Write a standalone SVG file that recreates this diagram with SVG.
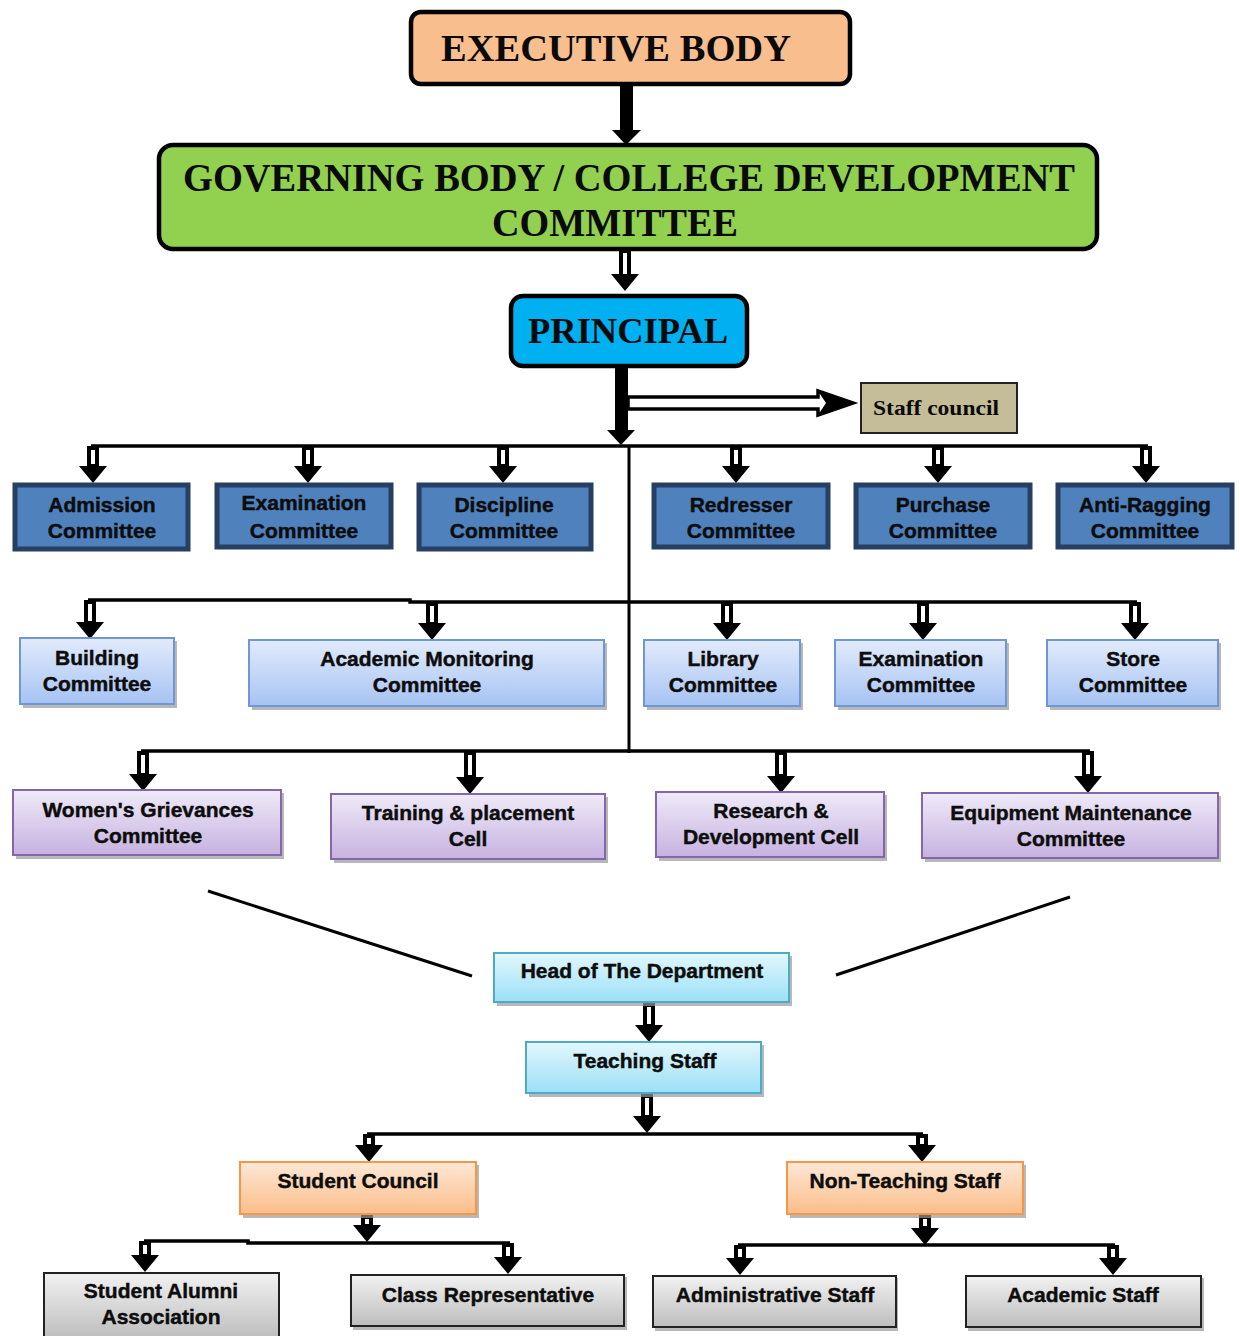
<svg xmlns="http://www.w3.org/2000/svg" xmlns:xlink="http://www.w3.org/1999/xlink" width="1240" height="1336" viewBox="0 0 1240 1336">
<style>
.serif{font-family:"Liberation Serif","Times New Roman",serif;font-weight:bold;fill:#0a0a0a;text-anchor:middle}
.t{font-family:"Liberation Sans",Arial,sans-serif;font-weight:bold;font-size:21px;fill:#0d0d0d;stroke:#0d0d0d;stroke-width:0.45;text-anchor:middle}
.dk{fill:#4F81BD;stroke:#263F63;stroke-width:5}
.lb{fill:url(#gLb);stroke:#6F97D5;stroke-width:2}
.lav{fill:url(#gLav);stroke:#8466AC;stroke-width:2}
.cy{fill:url(#gCy);stroke:#4BACC6;stroke-width:2}
.or{fill:url(#gOr);stroke:#F79646;stroke-width:2}
.gr{fill:url(#gGr);stroke:#222;stroke-width:2}
.shd{fill:#9a9a9a;opacity:0.7}
.bus{fill:none;stroke:#000;stroke-width:3.5}
.sh{fill:#fff;stroke:#000;stroke-width:4}
.hd{fill:#000}
</style>
<defs>
<linearGradient id="gLb" x1="0" y1="0" x2="0" y2="1"><stop offset="0" stop-color="#E2EBFB"/><stop offset="1" stop-color="#A6C3F3"/></linearGradient>
<linearGradient id="gLav" x1="0" y1="0" x2="0" y2="1"><stop offset="0" stop-color="#EFEAF8"/><stop offset="1" stop-color="#C6B2E0"/></linearGradient>
<linearGradient id="gCy" x1="0" y1="0" x2="0" y2="1"><stop offset="0" stop-color="#E3F7FD"/><stop offset="1" stop-color="#9BE0F7"/></linearGradient>
<linearGradient id="gOr" x1="0" y1="0" x2="0" y2="1"><stop offset="0" stop-color="#FDE8D6"/><stop offset="1" stop-color="#FBBD8A"/></linearGradient>
<linearGradient id="gGr" x1="0" y1="0" x2="0" y2="1"><stop offset="0" stop-color="#F2F2F2"/><stop offset="1" stop-color="#BDBDBD"/></linearGradient>
<path id="hd" class="hd" d="M-14 -17 H14 L0 0 Z"/>
</defs>

<g id="connectors">
  <rect x="620" y="84" width="13" height="48" fill="#000"/>
  <path d="M612 130 H641 L626 145 Z" fill="#000"/>
  <rect class="sh" x="621" y="251" width="8" height="26"/>
  <use xlink:href="#hd" x="625" y="291"/>
  <rect x="615" y="366" width="13" height="66" fill="#000"/>
  <path d="M607 430 H635 L621 445 Z" fill="#000"/>
  <path d="M628 397 H818 V391 L853 403 L818 415 V409 H628 Z" fill="#fff" stroke="#000" stroke-width="3.5" stroke-linejoin="miter"/>
  <path d="M818 391 L853 403 L818 415 L826 403 Z" fill="#000"/>
  <line x1="629" y1="446" x2="629" y2="753" stroke="#000" stroke-width="3"/>
  <polyline class="bus" points="91,446 1148,446"/>
  <polyline class="bus" points="88,600 410,600 410,602 1137,602"/>
  <polyline class="bus" points="141,751 1090,751"/>
  <polyline class="bus" points="367,1134 923,1134"/>
  <polyline class="bus" points="144,1241 248,1241 248,1243 510,1243"/>
  <polyline class="bus" points="738,1245 1115,1245"/>
  <line x1="208" y1="891" x2="472" y2="976" stroke="#000" stroke-width="3"/>
  <line x1="836" y1="975" x2="1070" y2="897" stroke="#000" stroke-width="3"/>
  <rect class="sh" x="89" y="448" width="8" height="18"/><use xlink:href="#hd" x="93" y="483"/>
  <rect class="sh" x="304" y="448" width="8" height="18"/><use xlink:href="#hd" x="308" y="483"/>
  <rect class="sh" x="499" y="448" width="8" height="18"/><use xlink:href="#hd" x="503" y="483"/>
  <rect class="sh" x="732" y="448" width="8" height="18"/><use xlink:href="#hd" x="736" y="483"/>
  <rect class="sh" x="934" y="448" width="8" height="18"/><use xlink:href="#hd" x="938" y="483"/>
  <rect class="sh" x="1142" y="448" width="8" height="18"/><use xlink:href="#hd" x="1146" y="483"/>
  <rect class="sh" x="86" y="602" width="8" height="21"/><use xlink:href="#hd" x="90" y="639"/>
  <rect class="sh" x="428" y="604" width="8" height="20"/><use xlink:href="#hd" x="432" y="640"/>
  <rect class="sh" x="723" y="604" width="8" height="20"/><use xlink:href="#hd" x="727" y="640"/>
  <rect class="sh" x="919" y="604" width="8" height="20"/><use xlink:href="#hd" x="923" y="640"/>
  <rect class="sh" x="1131" y="604" width="8" height="20"/><use xlink:href="#hd" x="1135" y="640"/>
  <rect class="sh" x="139" y="753" width="8" height="22"/><use xlink:href="#hd" x="143" y="791"/>
  <rect class="sh" x="466" y="753" width="8" height="24"/><use xlink:href="#hd" x="470" y="794"/>
  <rect class="sh" x="777" y="753" width="8" height="23"/><use xlink:href="#hd" x="781" y="793"/>
  <rect class="sh" x="1084" y="753" width="8" height="23"/><use xlink:href="#hd" x="1088" y="793"/>
  <rect class="sh" x="645" y="1005" width="8" height="21"/><use xlink:href="#hd" x="649" y="1042"/>
  <rect class="sh" x="643" y="1096" width="8" height="21"/><use xlink:href="#hd" x="647" y="1133"/>
  <rect class="sh" x="365" y="1136" width="8" height="10"/><use xlink:href="#hd" x="369" y="1162"/>
  <rect class="sh" x="918" y="1136" width="8" height="10"/><use xlink:href="#hd" x="922" y="1162"/>
  <rect class="sh" x="363" y="1217" width="8" height="9"/><use xlink:href="#hd" x="367" y="1242"/>
  <rect class="sh" x="921" y="1217" width="8" height="11"/><use xlink:href="#hd" x="925" y="1245"/>
  <rect class="sh" x="141" y="1243" width="8" height="13"/><use xlink:href="#hd" x="145" y="1272"/>
  <rect class="sh" x="504" y="1245" width="8" height="13"/><use xlink:href="#hd" x="508" y="1274"/>
  <rect class="sh" x="736" y="1247" width="8" height="12"/><use xlink:href="#hd" x="740" y="1275"/>
  <rect class="sh" x="1109" y="1247" width="8" height="12"/><use xlink:href="#hd" x="1113" y="1275"/>
</g>

<g id="executive-body">
  <rect x="411" y="12" width="439" height="72" rx="10" fill="#F8BE8E" stroke="#000" stroke-width="4.5"/>
  <text class="serif" x="616" y="61" font-size="38" textLength="350" lengthAdjust="spacingAndGlyphs">EXECUTIVE BODY</text>
</g>

<g id="governing-body">
  <rect x="159" y="145" width="938" height="104" rx="14" fill="#92D050" stroke="#000" stroke-width="4.5"/>
  <text class="serif" x="629" y="191" font-size="40" textLength="892" lengthAdjust="spacingAndGlyphs">GOVERNING BODY / COLLEGE DEVELOPMENT</text>
  <text class="serif" x="615" y="236" font-size="40" textLength="246" lengthAdjust="spacingAndGlyphs">COMMITTEE</text>
</g>

<g id="principal">
  <rect x="511" y="296" width="236" height="70" rx="12" fill="#00B0F0" stroke="#000" stroke-width="4.5"/>
  <text class="serif" x="628" y="343" font-size="36" textLength="200" lengthAdjust="spacingAndGlyphs">PRINCIPAL</text>
</g>

<g id="staff-council">
  <rect x="861" y="383" width="156" height="50" fill="#C4BD97" stroke="#222" stroke-width="2"/>
  <text class="serif" x="936" y="415" font-size="21" textLength="126" lengthAdjust="spacingAndGlyphs">Staff council</text>
</g>

<g id="admission-committee">
  <rect class="dk" x="15" y="485" width="173" height="64"/>
  <text class="t" x="102" y="512">Admission</text><text class="t" x="102" y="538">Committee</text>
</g>
<g id="examination-committee-1">
  <rect class="dk" x="217" y="485" width="174" height="62"/>
  <text class="t" x="304" y="510">Examination</text><text class="t" x="304" y="538">Committee</text>
</g>
<g id="discipline-committee">
  <rect class="dk" x="419" y="485" width="172" height="64"/>
  <text class="t" x="504" y="512">Discipline</text><text class="t" x="504" y="538">Committee</text>
</g>
<g id="redresser-committee">
  <rect class="dk" x="654" y="485" width="174" height="62"/>
  <text class="t" x="741" y="512">Redresser</text><text class="t" x="741" y="538">Committee</text>
</g>
<g id="purchase-committee">
  <rect class="dk" x="856" y="485" width="174" height="62"/>
  <text class="t" x="943" y="512">Purchase</text><text class="t" x="943" y="538">Committee</text>
</g>
<g id="anti-ragging-committee">
  <rect class="dk" x="1058" y="485" width="174" height="62"/>
  <text class="t" x="1145" y="512">Anti-Ragging</text><text class="t" x="1145" y="538">Committee</text>
</g>

<g id="building-committee">
  <rect class="shd" x="23" y="641" width="154" height="67"/>
  <rect class="lb" x="20" y="638" width="154" height="66"/>
  <text class="t" x="97" y="665">Building</text><text class="t" x="97" y="691">Committee</text>
</g>
<g id="academic-monitoring-committee">
  <rect class="shd" x="252" y="643" width="355" height="67"/>
  <rect class="lb" x="249" y="640" width="355" height="66"/>
  <text class="t" x="427" y="666">Academic Monitoring</text><text class="t" x="427" y="692">Committee</text>
</g>
<g id="library-committee">
  <rect class="shd" x="647" y="643" width="156" height="67"/>
  <rect class="lb" x="644" y="640" width="156" height="66"/>
  <text class="t" x="723" y="666">Library</text><text class="t" x="723" y="692">Committee</text>
</g>
<g id="examination-committee-2">
  <rect class="shd" x="838" y="643" width="171" height="67"/>
  <rect class="lb" x="835" y="640" width="171" height="66"/>
  <text class="t" x="921" y="666">Examination</text><text class="t" x="921" y="692">Committee</text>
</g>
<g id="store-committee">
  <rect class="shd" x="1050" y="643" width="171" height="67"/>
  <rect class="lb" x="1047" y="640" width="171" height="66"/>
  <text class="t" x="1133" y="666">Store</text><text class="t" x="1133" y="692">Committee</text>
</g>

<g id="womens-grievances-committee">
  <rect class="shd" x="16" y="793" width="268" height="66"/>
  <rect class="lav" x="13" y="790" width="268" height="65"/>
  <text class="t" x="148" y="817">Women's Grievances</text><text class="t" x="148" y="843">Committee</text>
</g>
<g id="training-placement-cell">
  <rect class="shd" x="334" y="797" width="274" height="66"/>
  <rect class="lav" x="331" y="794" width="274" height="65"/>
  <text class="t" x="468" y="820">Training &amp; placement</text><text class="t" x="468" y="846">Cell</text>
</g>
<g id="research-development-cell">
  <rect class="shd" x="659" y="795" width="228" height="66"/>
  <rect class="lav" x="656" y="792" width="228" height="65"/>
  <text class="t" x="771" y="818">Research &amp;</text><text class="t" x="771" y="844">Development Cell</text>
</g>
<g id="equipment-maintenance-committee">
  <rect class="shd" x="925" y="796" width="296" height="66"/>
  <rect class="lav" x="922" y="793" width="296" height="65"/>
  <text class="t" x="1071" y="820">Equipment Maintenance</text><text class="t" x="1071" y="846">Committee</text>
</g>

<g id="head-of-department">
  <rect class="shd" x="497" y="956" width="295" height="50"/>
  <rect class="cy" x="494" y="953" width="295" height="49"/>
  <text class="t" x="642" y="978">Head of The Department</text>
</g>
<g id="teaching-staff">
  <rect class="shd" x="529" y="1045" width="235" height="52"/>
  <rect class="cy" x="526" y="1042" width="235" height="51"/>
  <text class="t" x="645" y="1068">Teaching Staff</text>
</g>
<g id="student-council">
  <rect class="shd" x="243" y="1165" width="236" height="53"/>
  <rect class="or" x="240" y="1162" width="236" height="52"/>
  <text class="t" x="358" y="1188">Student Council</text>
</g>
<g id="non-teaching-staff">
  <rect class="shd" x="790" y="1165" width="236" height="53"/>
  <rect class="or" x="787" y="1162" width="236" height="52"/>
  <text class="t" x="905" y="1188">Non-Teaching Staff</text>
</g>
<g id="student-alumni-association">
  <rect class="gr" x="44" y="1273" width="235" height="66"/>
  <text class="t" x="161" y="1298">Student Alumni</text><text class="t" x="161" y="1324">Association</text>
</g>
<g id="class-representative">
  <rect class="shd" x="353" y="1277" width="274" height="53"/>
  <rect class="gr" x="351" y="1275" width="273" height="51"/>
  <text class="t" x="488" y="1302">Class Representative</text>
</g>
<g id="administrative-staff">
  <rect class="shd" x="655" y="1278" width="243" height="53"/>
  <rect class="gr" x="653" y="1276" width="243" height="51"/>
  <text class="t" x="775" y="1302">Administrative Staff</text>
</g>
<g id="academic-staff">
  <rect class="shd" x="968" y="1278" width="236" height="53"/>
  <rect class="gr" x="966" y="1276" width="235" height="51"/>
  <text class="t" x="1083" y="1302">Academic Staff</text>
</g>
</svg>
